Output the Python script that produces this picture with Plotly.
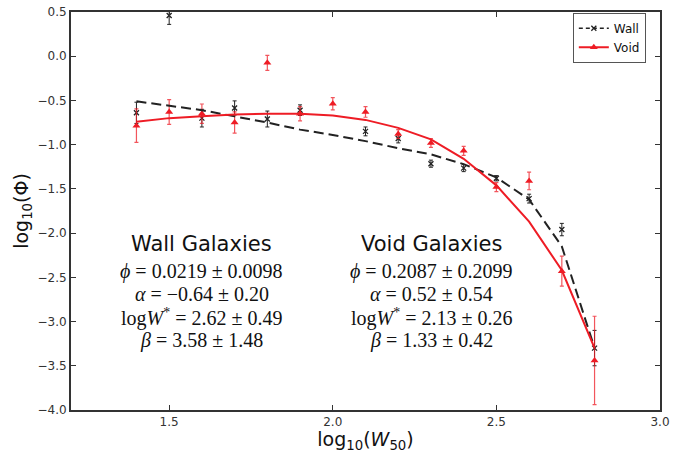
import plotly.graph_objects as go

# ---- data ----
x_pts = [1.4, 1.5, 1.6, 1.7, 1.8, 1.9, 2.0, 2.1, 2.2, 2.3, 2.4, 2.5, 2.6, 2.7, 2.8]

wall_y = [-0.64, 0.46, -0.70, -0.585, -0.71, -0.61, None, -0.85, -0.93, -1.215, -1.265, -1.38, -1.61, -1.96, -3.30]
wall_err = [0.12, 0.10, 0.10, 0.08, 0.09, 0.06, None, 0.05, 0.05, 0.04, 0.04, 0.03, 0.05, 0.07, 0.2]

void_y = [-0.785, -0.63, -0.65, -0.75, -0.075, -0.65, -0.537, -0.63, -0.88, -0.98, -1.07, -1.48, -1.41, -2.43, -3.44]
void_err = [0.19, 0.14, 0.11, 0.12, 0.085, 0.08, 0.07, 0.06, 0.05, 0.05, 0.05, 0.05, 0.10, 0.17, 0.50]

wall_fit = [-0.51, -0.56, -0.61, -0.68, -0.75, -0.83, -0.89, -0.96, -1.04, -1.11, -1.22, -1.37, -1.62, -2.15, -3.30]
void_fit = [-0.74, -0.70, -0.68, -0.66, -0.65, -0.65, -0.67, -0.72, -0.81, -0.94, -1.16, -1.46, -1.87, -2.42, -3.30]

wall_text = ["Wall Galaxies",
             "<i>ϕ</i> = 0.0219 ± 0.0098",
             "<i>α</i> = −0.64 ± 0.20",
             "log<i>W</i><sup>*</sup> = 2.62 ± 0.49",
             "<i>β</i> = 3.58 ± 1.48"]
void_text = ["Void Galaxies",
             "<i>ϕ</i> = 0.2087 ± 0.2099",
             "<i>α</i> = 0.52 ± 0.54",
             "log<i>W</i><sup>*</sup> = 2.13 ± 0.26",
             "<i>β</i> = 1.33 ± 0.42"]

x_ticks = [1.5, 2.0, 2.5, 3.0]
y_ticks = [0.5, 0.0, -0.5, -1.0, -1.5, -2.0, -2.5, -3.0, -3.5, -4.0]

BLACK = "#222222"
RED = "#ee1c25"

fig = go.Figure()

# Wall: points with error bars
fig.add_trace(go.Scatter(
    x=x_pts, y=wall_y, mode="markers", name="Wall", showlegend=False,
    marker=dict(symbol="x-thin", size=5, color=BLACK, line=dict(color=BLACK, width=1.3)),
    error_y=dict(type="data", array=wall_err, color=BLACK, thickness=1, width=2),
))
# Void: points with error bars
fig.add_trace(go.Scatter(
    x=x_pts, y=void_y, mode="markers", name="Void", showlegend=False,
    marker=dict(symbol="triangle-up", size=7, color=RED),
    error_y=dict(type="data", array=void_err, color="rgba(238,28,37,0.75)", thickness=1.2, width=2),
))
# Fit lines
fig.add_trace(go.Scatter(
    x=x_pts, y=wall_fit, mode="lines", name="Wall", showlegend=False,
    line=dict(color=BLACK, width=2, dash="10px,5px"),
))
fig.add_trace(go.Scatter(
    x=x_pts, y=void_fit, mode="lines", name="Void", showlegend=False,
    line=dict(color=RED, width=2),
))
# Legend entries (marker + line style)
fig.add_trace(go.Scatter(
    x=[None], y=[None], mode="lines+markers", name="Wall",
    line=dict(color=BLACK, width=1.5, dash="4px,3px"),
    marker=dict(symbol="x-thin", size=5, color=BLACK, line=dict(color=BLACK, width=1.3)),
))
fig.add_trace(go.Scatter(
    x=[None], y=[None], mode="lines+markers", name="Void",
    line=dict(color=RED, width=2),
    marker=dict(symbol="triangle-up", size=7, color=RED),
))

annotations = []
ys = [-2.12, -2.43, -2.685, -2.955, -3.21]
for xc, lines in [(1.600, wall_text), (2.303, void_text)]:
    for i, (t, yv) in enumerate(zip(lines, ys)):
        annotations.append(dict(
            x=xc, y=yv, xref="x", yref="y", text=t, showarrow=False,
            xanchor="center", yanchor="middle",
            font=dict(family="DejaVu Sans" if i == 0 else "Liberation Serif",
                      size=21 if i == 0 else 20, color="#111111"),
        ))

axis_common = dict(
    showline=True, linecolor="#333333", linewidth=2, mirror="ticks",
    ticks="inside", ticklen=5, tickwidth=1, tickcolor="#333333",
    showgrid=False, zeroline=False,
    tickfont=dict(family="DejaVu Sans", size=12, color="#333333"),
)

fig.update_layout(
    width=693, height=453,
    margin=dict(l=71, r=33, t=5, b=43),
    plot_bgcolor="white", paper_bgcolor="white",
    xaxis=dict(range=[1.2, 3.0], tickvals=x_ticks, ticktext=["1.5", "2.0", "2.5", "3.0"],
               title=dict(text="log<sub>10</sub>(<i>W</i><sub>50</sub>)", standoff=0,
                          font=dict(family="DejaVu Sans", size=19, color="#111111")),
               **axis_common),
    yaxis=dict(range=[-4.0, 0.5], tickvals=y_ticks, tickformat=".1f",
               title=dict(text="log<sub>10</sub>(Φ)", standoff=4,
                          font=dict(family="DejaVu Sans", size=19, color="#111111")),
               **axis_common),
    legend=dict(x=0.852, y=0.998, xanchor="left", yanchor="top",
                bgcolor="white", bordercolor="#555555", borderwidth=1,
                font=dict(family="DejaVu Sans", size=12, color="#111111"),
                tracegroupgap=0, itemwidth=30),
    annotations=annotations,
    showlegend=True,
)

fig.write_html("out.html")
